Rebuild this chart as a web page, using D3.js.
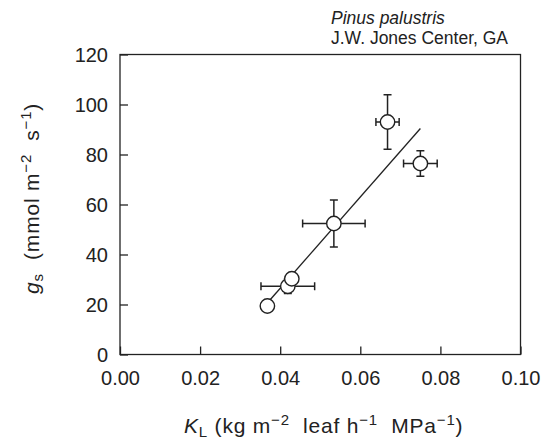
<!DOCTYPE html>
<html>
<head>
<meta charset="utf-8">
<script src="https://cdn.jsdelivr.net/npm/d3@7"></script>
<style>
  body { margin: 0; background: #fff; }
  svg { display: block; }
  text { font-family: "Liberation Sans", Arial, Helvetica, sans-serif; fill: #222; }
</style>
</head>
<body>
<svg id="chart" width="546" height="443"></svg>
<script>
// ---- data ----
const kl     = [0.0368, 0.0419, 0.0429, 0.0534, 0.0668, 0.0750];
const gs     = [19.4, 27.3, 30.3, 52.4, 93.0, 76.4];
const klErr  = [0, 0.0067, 0, 0.0078, 0.0029, 0.0042];
const gsErr  = [0, 2.9, 0, 9.4, 10.9, 5.1];
const fitKl  = [0.0370, 0.0750];
const fitGs  = [21.0, 90.4];
const xTicks = [0.00, 0.02, 0.04, 0.06, 0.08, 0.10];
const yTicks = [0, 20, 40, 60, 80, 100, 120];

const svg = d3.select("#chart");
const L = 120, R = 520.5, T = 54.5, B = 354.5;
const x = d3.scaleLinear().domain([0, 0.10]).range([L, R]);
const y = d3.scaleLinear().domain([0, 120]).range([B, T]);
const ink = "#222";

// axes with inward ticks
const xAxis = svg.append("g").attr("transform", `translate(0,${B})`)
  .call(d3.axisBottom(x).tickValues(xTicks).tickSizeInner(-8).tickSizeOuter(0).tickPadding(16)
    .tickFormat(d3.format(".2f")));
const yAxis = svg.append("g").attr("transform", `translate(${L},0)`)
  .call(d3.axisLeft(y).tickValues(yTicks).tickSizeInner(-8).tickSizeOuter(0).tickPadding(12));
[xAxis, yAxis].forEach(g => {
  g.select(".domain").remove();
  g.selectAll("line").attr("stroke", ink).attr("stroke-width", 1.3);
  g.selectAll("text").attr("font-size", 20).style("fill", ink)
   .attr("font-family", '"Liberation Sans", Arial, Helvetica, sans-serif');
});
xAxis.selectAll("text").attr("dy", "0.71em");
yAxis.selectAll("text").attr("dy", "0.35em");

// frame
svg.append("rect").attr("x", L).attr("y", T).attr("width", R - L).attr("height", B - T)
  .attr("fill", "none").attr("stroke", ink).attr("stroke-width", 1.3);

// regression line
svg.append("line")
  .attr("x1", x(fitKl[0])).attr("y1", y(fitGs[0]))
  .attr("x2", x(fitKl[1])).attr("y2", y(fitGs[1]))
  .attr("stroke", ink).attr("stroke-width", 1.3);

// error bars
const pts = kl.map((k, i) => ({k, g: gs[i], ek: klErr[i], eg: gsErr[i]}));
const cap = 4;
const eb = svg.append("g").attr("stroke", ink).attr("stroke-width", 1.5);
pts.forEach(p => {
  if (p.eg > 0) {
    eb.append("line").attr("x1", x(p.k)).attr("x2", x(p.k)).attr("y1", y(p.g - p.eg)).attr("y2", y(p.g + p.eg));
    [p.g - p.eg, p.g + p.eg].forEach(v =>
      eb.append("line").attr("x1", x(p.k) - cap).attr("x2", x(p.k) + cap).attr("y1", y(v)).attr("y2", y(v)));
  }
  if (p.ek > 0) {
    eb.append("line").attr("y1", y(p.g)).attr("y2", y(p.g)).attr("x1", x(p.k - p.ek)).attr("x2", x(p.k + p.ek));
    [p.k - p.ek, p.k + p.ek].forEach(v =>
      eb.append("line").attr("y1", y(p.g) - cap).attr("y2", y(p.g) + cap).attr("x1", x(v)).attr("x2", x(v)));
  }
});

// points
svg.append("g").selectAll("circle").data(pts).join("circle")
  .attr("cx", d => x(d.k)).attr("cy", d => y(d.g)).attr("r", 7.2)
  .attr("fill", "#fff").attr("stroke", ink).attr("stroke-width", 1.4);

// annotation
svg.append("text").attr("x", 331).attr("y", 24).attr("font-size", 17.5)
  .attr("font-style", "italic").text("Pinus palustris");
svg.append("text").attr("x", 331).attr("y", 44).attr("font-size", 17.5)
  .text("J.W. Jones Center, GA");

// x label
const LS = "0.8px";
const xl = svg.append("text").attr("x", 184).attr("y", 433).attr("font-size", 21).attr("letter-spacing", LS);
xl.append("tspan").attr("font-style", "italic").text("K");
xl.append("tspan").attr("font-size", 15).attr("dy", 4).text("L");
xl.append("tspan").attr("dy", -4).text(" (kg m");
xl.append("tspan").attr("font-size", 15).attr("dy", -8).text("\u22122");
xl.append("tspan").attr("dy", 8).text("\u00a0 leaf h");
xl.append("tspan").attr("font-size", 15).attr("dy", -8).text("\u22121");
xl.append("tspan").attr("dy", 8).text("\u00a0 MPa");
xl.append("tspan").attr("font-size", 15).attr("dy", -8).text("\u22121");
xl.append("tspan").attr("dy", 8).text(")");

// y label
const yl = svg.append("text").attr("transform", "translate(39,294) rotate(-90)")
  .attr("font-size", 21).attr("letter-spacing", LS);
yl.append("tspan").attr("font-style", "italic").text("g");
yl.append("tspan").attr("font-size", 15).attr("dy", 4).text("s");
yl.append("tspan").attr("dy", -4).text("\u00a0 (mmol m");
yl.append("tspan").attr("font-size", 15).attr("dy", -8).text("\u22122");
yl.append("tspan").attr("dy", 8).text("\u00a0 s");
yl.append("tspan").attr("font-size", 15).attr("dy", -8).text("\u22121");
yl.append("tspan").attr("dy", 8).text(")");
</script>
</body>
</html>
